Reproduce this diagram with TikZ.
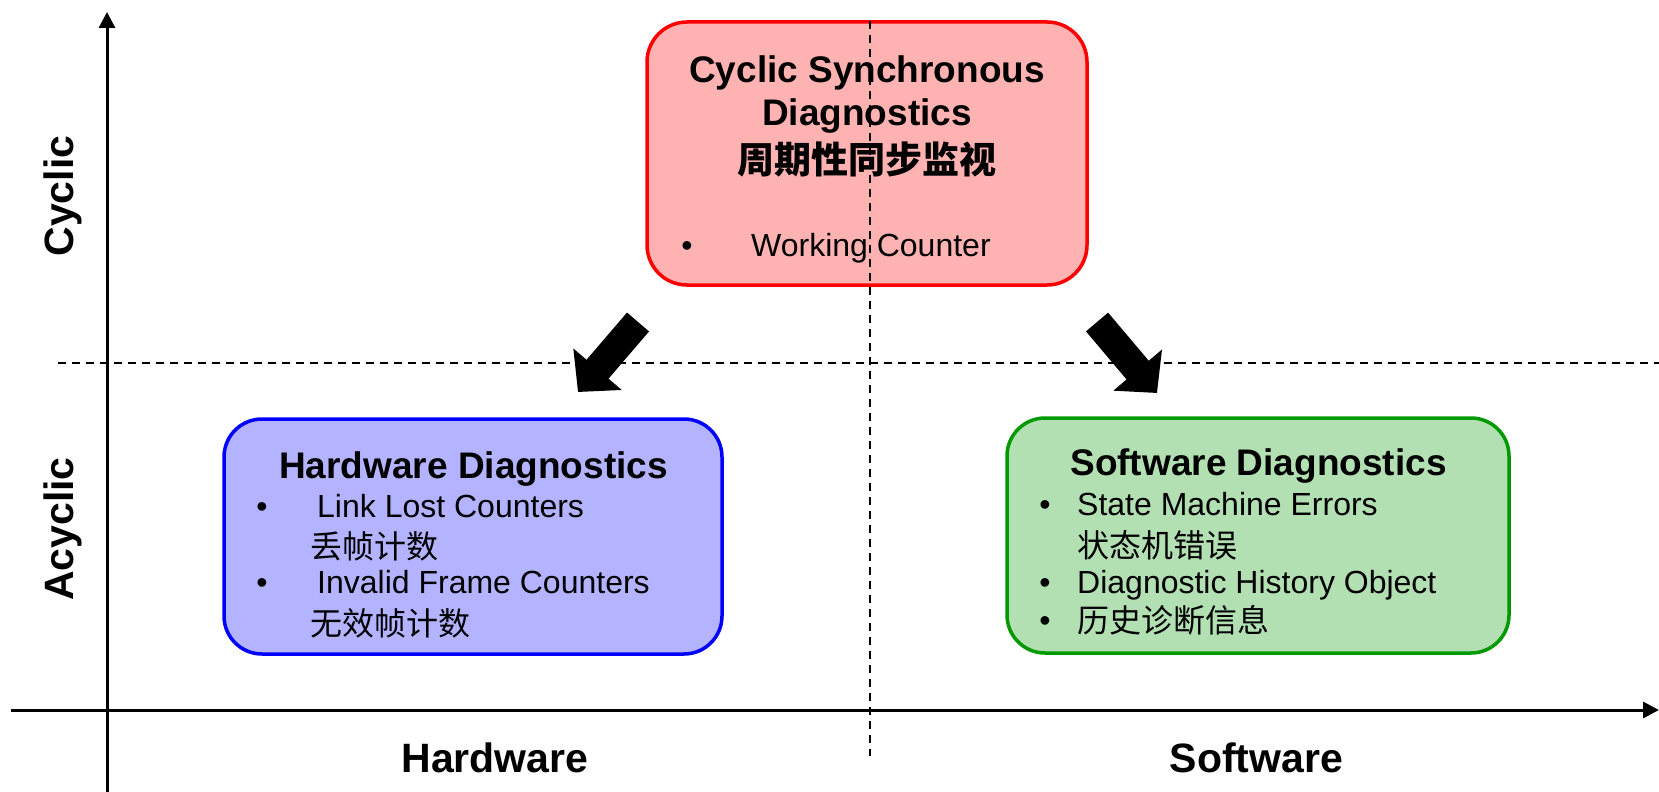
\documentclass[tikz,border=0pt]{standalone}
\usepackage{fontspec}
\setmainfont{Liberation Sans}
\newfontfamily\cjk{Noto Sans CJK SC}
\usetikzlibrary{arrows.meta}

\definecolor{cycfill}{RGB}{255,178,178}
\definecolor{cycline}{RGB}{255,0,0}
\definecolor{hwfill}{RGB}{179,179,255}
\definecolor{hwline}{RGB}{0,0,255}
\definecolor{swfill}{RGB}{179,224,179}
\definecolor{swline}{RGB}{0,153,0}

\newcommand{\titlefont}{\fontsize{37}{44}\selectfont\bfseries}
\newcommand{\bodyfont}{\fontsize{32}{38}\selectfont}
\newcommand{\axisfont}{\fontsize{41}{48}\selectfont\bfseries}

\begin{document}
\begin{tikzpicture}[x=1pt,y=-1pt,
  box/.style={draw,line width=3.5pt,rounded corners=40pt,inner sep=0pt},
  heading/.style={anchor=base,inner sep=0pt,font=\titlefont},
  item/.style={anchor=base west,inner sep=0pt,font=\bodyfont},
  dot/.style={anchor=base,inner sep=0pt,font=\bodyfont},
  axislabel/.style={anchor=base,inner sep=0pt,font=\axisfont},
  axis/.style={line width=3pt,-{Triangle[length=16pt,width=16pt]}},
  guide/.style={line width=1.5pt,dash pattern=on 8pt off 6pt},
  bigarrow/.style={line width=29pt,-{Triangle[length=30pt,width=62pt]}}]
\useasboundingbox (0,0) rectangle (1659,792);

% Axes
\coordinate (ybot) at (107,792);
\coordinate (ytop) at (107,12);
\coordinate (xleft) at (11,710);
\coordinate (xright) at (1659,710);
\draw[axis] (ybot) -- (ytop);
\draw[axis] (xleft) -- (xright);

% Axis labels
\node[axislabel,rotate=90] (cyclic) at (73,196) {Cyclic};
\node[axislabel,rotate=90] (acyclic) at (73,529) {Acyclic};
\node[axislabel] (hardware) at (495,772) {Hardware};
\node[axislabel] (software) at (1256.5,772) {Software};

% Boxes
\node[box,fill=cycfill,draw=cycline,minimum width=440pt,minimum height=263pt] (cyc) at (867,153.5) {};
\node[box,fill=hwfill,draw=hwline,minimum width=498pt,minimum height=235pt,rounded corners=38pt] (hw) at (473,536.5) {};
\node[box,fill=swfill,draw=swline,minimum width=502pt,minimum height=235pt,rounded corners=38pt] (sw) at (1258,535.5) {};

% Cyclic synchronous text
\node[heading] (cyct1) at (867,82) {Cyclic Synchronous};
\node[heading] (cyct2) at (867,125) {Diagnostics};
\node[heading,font=\titlefont\cjk] (cyct3) at (867,173) {周期性同步监视};
\node[dot] (cycd1) at (687,256) {•};
\node[item] (cyci1) at (751,256) {Working Counter};

% Hardware text
\node[heading] (hwt) at (473.5,478) {Hardware Diagnostics};
\node[dot] (hwd1) at (262,517) {•};
\node[item] (hwi1) at (317,517) {Link Lost Counters};
\node[item,font=\bodyfont\cjk] (hwi2) at (310,558.5) {丢帧计数};
\node[dot] (hwd2) at (262,593) {•};
\node[item] (hwi3) at (317,593) {Invalid Frame Counters};
\node[item,font=\bodyfont\cjk] (hwi4) at (310,635.5) {无效帧计数};

% Software text
\node[heading] (swt) at (1258.5,475) {Software Diagnostics};
\node[dot] (swd1) at (1045,515) {•};
\node[item] (swi1) at (1077,515) {State Machine Errors};
\node[item,font=\bodyfont\cjk] (swi2) at (1077,557.5) {状态机错误};
\node[dot] (swd2) at (1045,593) {•};
\node[item] (swi3) at (1077,593) {Diagnostic History Object};
\node[dot] (swd3) at (1045,631) {•};
\node[item,font=\bodyfont\cjk] (swi4) at (1077,632.5) {历史诊断信息};

% Quadrant guides
\coordinate (gleft) at (58,363);
\coordinate (gright) at (1659,363);
\coordinate (gtop) at (870,21);
\coordinate (gbot) at (870,756);
\draw[guide] (gleft) -- (gright);
\draw[guide] (gtop) -- (gbot);

% Block arrows
\coordinate (hwtail) at (638,322);
\coordinate (hwtip) at (578,392);
\coordinate (swtail) at (1097,322);
\coordinate (swtip) at (1157,393);
\draw[bigarrow] (hwtail) -- (hwtip);
\draw[bigarrow] (swtail) -- (swtip);
\end{tikzpicture}
\end{document}
